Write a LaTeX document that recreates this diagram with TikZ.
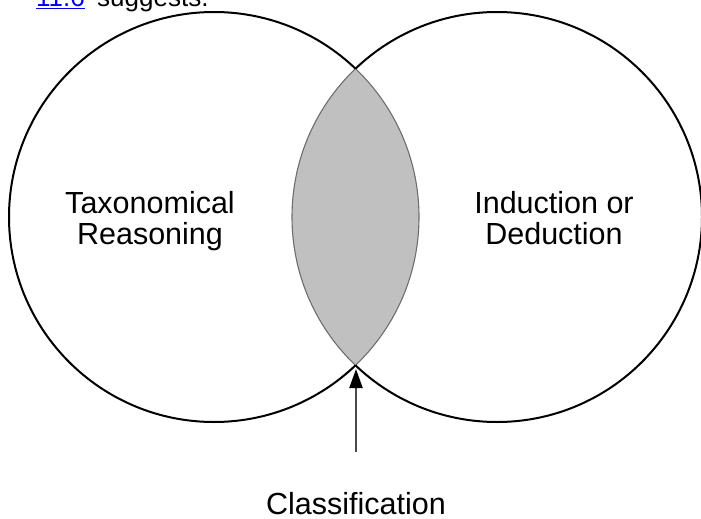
\documentclass[tikz,border=0pt]{standalone}
\usepackage{fontspec}
\setmainfont{Liberation Sans}
\usetikzlibrary{arrows.meta}
\definecolor{lensgray}{HTML}{C0C0C0}
\definecolor{lensline}{HTML}{6E6E6E}
\definecolor{shaft}{HTML}{4A4A4A}
\definecolor{linkblue}{HTML}{0000EE}
\tikzset{
  ring/.style={draw=black, line width=2pt},
  lensedge/.style={draw=lensline, line width=1.1pt},
  label/.style={font=\fontsize{30.5}{31}\selectfont, align=center, inner sep=0pt},
  toptext/.style={font=\fontsize{26}{30}\selectfont, inner sep=0pt},
}
\begin{document}
\begin{tikzpicture}[x=1pt,y=-1pt]
\useasboundingbox (0,0) rectangle (701,519);
\coordinate (L) at (214,217);
\coordinate (R) at (497,217);
% partially visible text at top
\node[toptext, anchor=base west, text=linkblue] (link) at (36,7) {\underline{11.6}};
\node[toptext, anchor=base west] (sugg) at (97,7) {suggests.};
% lens
\begin{scope}
  \clip (L) circle (205pt);
  \fill[lensgray] (R) circle (205pt);
  \draw[lensedge] (R) circle (205pt);
\end{scope}
\begin{scope}
  \clip (R) circle (205pt);
  \draw[lensedge] (L) circle (205pt);
\end{scope}
% outer arcs
\begin{scope}[even odd rule]
  \clip (-20,-20) rectangle (740,560) (R) circle (205pt);
  \draw[ring] (L) circle (205pt);
\end{scope}
\begin{scope}[even odd rule]
  \clip (-20,-20) rectangle (740,560) (L) circle (205pt);
  \draw[ring] (R) circle (205pt);
\end{scope}
\coordinate (bot) at (356,369);
\node[label, anchor=base] (tax) at (150,244) {Taxonomical\\Reasoning};
\node[label, anchor=base] (ind) at (554,244) {Induction or\\Deduction};
\node[label, anchor=base] (cls) at (356,514) {Classification};
\draw[draw=shaft, line width=2pt, -{Triangle[length=19pt,width=13pt,color=black]}] (356,452) -- (bot);
\end{tikzpicture}
\end{document}
